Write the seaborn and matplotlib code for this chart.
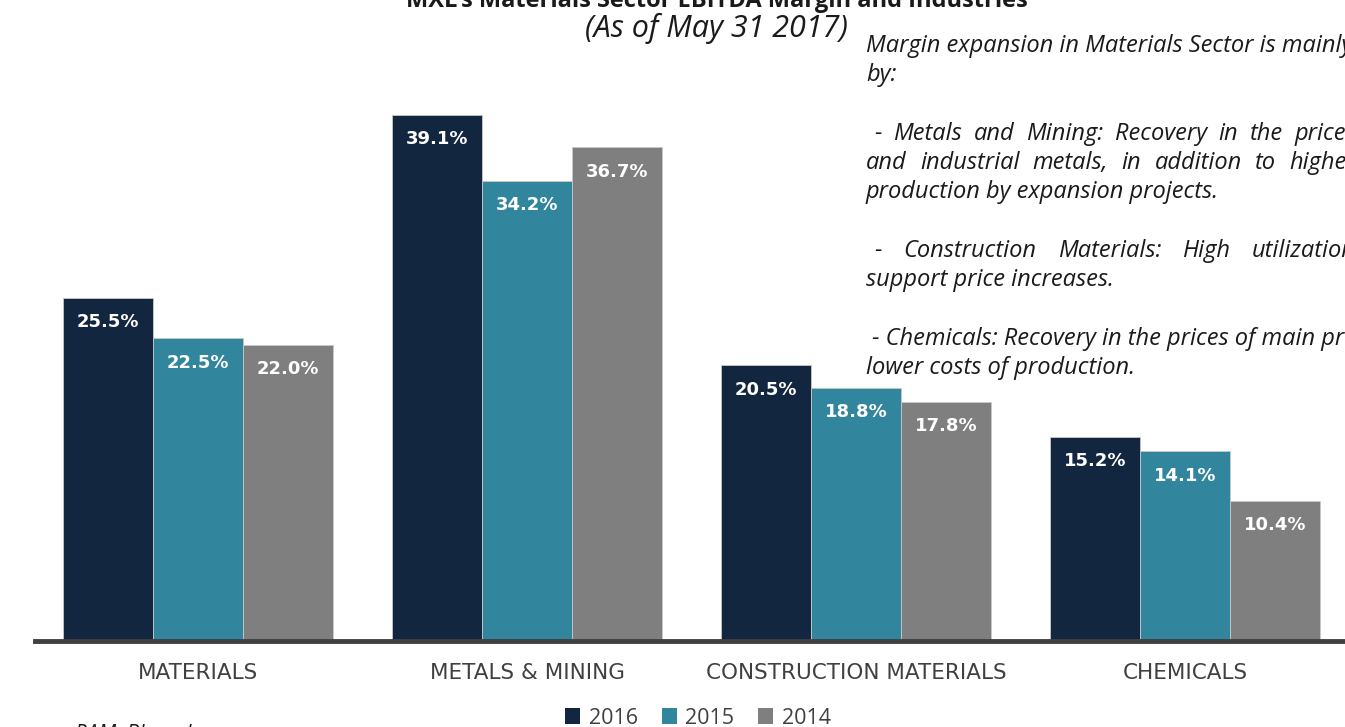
import matplotlib
matplotlib.use("Agg")
import matplotlib.pyplot as plt
import seaborn as sns
import pandas as pd
from matplotlib.patches import Patch

categories = ["MATERIALS", "METALS & MINING", "CONSTRUCTION MATERIALS", "CHEMICALS"]
years = ["2016", "2015", "2014"]
v2016 = [25.5, 39.1, 20.5, 15.2]
v2015 = [22.5, 34.2, 18.8, 14.1]
v2014 = [22.0, 36.7, 17.8, 10.4]
colors = ["#12263f", "#31869e", "#7f7f7f"]

title = "MXL's Materials Sector EBITDA Margin and Industries"
subtitle = "(As of May 31 2017)"
source = "PAM, Bloomberg"
# (text, justified?)
note_lines = [
    ("Margin expansion in Materials Sector is mainly driven", False),
    ("by:", False),
    ("", False),
    (" - Metals and Mining: Recovery in the prices", True),
    ("and industrial metals, in addition to higher", True),
    ("production by expansion projects.", False),
    ("", False),
    (" - Construction Materials: High utilization", True),
    ("support price increases.", False),
    ("", False),
    (" - Chemicals: Recovery in the prices of main products and", False),
    ("lower costs of production.", False),
]

rows = []
for y, vals in zip(years, [v2016, v2015, v2014]):
    for c, v in zip(categories, vals):
        rows.append({"category": c, "year": y, "value": v})
df = pd.DataFrame(rows)

sns.set_theme(style="white")
plt.rcParams["font.family"] = ["Open Sans", "DejaVu Sans"]

W, H = 1345, 727
fig = plt.figure(figsize=(W / 100, H / 100), dpi=100)
ax = fig.add_axes([35 / W, 1 - 641 / H, 1 - 35 / W, 641 / H])

sns.barplot(data=df, x="category", y="value", hue="year", hue_order=years,
            order=categories, palette=colors, width=0.82, gap=0,
            edgecolor="#c8c8c8", linewidth=0.6, saturation=1, ax=ax,
            legend=False)

ax.set_xlim(-0.495, 3.486)
ax.set_ylim(0, 641 / 13.45)
for s in ["top", "right", "left"]:
    ax.spines[s].set_visible(False)
ax.spines["bottom"].set_color("#404040")
ax.spines["bottom"].set_linewidth(3.5)
ax.set_yticks([])
ax.set_xlabel("")
ax.set_ylabel("")
ax.tick_params(axis="x", length=0, pad=16, labelsize=15.5, labelcolor="#404040")
for t in ax.get_xticklabels():
    t.set_fontfamily("DejaVu Sans")

for cont in ax.containers:
    for p in cont:
        h = p.get_height()
        ax.annotate(f"{h:.1f}%", (p.get_x() + p.get_width() / 2, h),
                    xytext=(0, -17.5), textcoords="offset points",
                    ha="center", va="center", color="white",
                    fontsize=13, fontweight="bold", family="DejaVu Sans")

# titles
fig.text(717 / W, 1 - 7 / H, title, ha="center", va="baseline",
         fontsize=17, fontweight="bold", color="#1a1a1a")
fig.text(716 / W, 1 - 37 / H, subtitle, ha="center", va="baseline",
         fontsize=22, fontstyle="italic", color="#1a1a1a")

# commentary (justified lines spread to the box's right edge)
renderer = fig.canvas.get_renderer()
x_left, x_right = 866, 1356
y0 = 46
fs_note = 17
for i, (line, just) in enumerate(note_lines):
    if not line:
        continue
    yy = 1 - (y0 + i * 29.3) / H
    if not just:
        fig.text(x_left / W, yy, line, ha="left", va="center",
                 fontsize=fs_note, fontstyle="italic", color="#1a1a1a")
        continue
    lead = len(line) - len(line.lstrip(" "))
    words = line.split()
    texts = [fig.text(0, yy, w, ha="left", va="center", fontsize=fs_note,
                      fontstyle="italic", color="#1a1a1a") for w in words]
    widths = [t.get_window_extent(renderer).width for t in texts]
    start = x_left + lead * 8
    gap = (x_right - start - sum(widths)) / (len(words) - 1)
    x = start
    for t, wdt in zip(texts, widths):
        t.set_x(x / W)
        x += wdt + gap

# source
fig.text(75 / W, 1 - 735 / H, source, ha="left", va="center",
         fontsize=15, fontstyle="italic", color="#1a1a1a")

handles = [Patch(facecolor=c, edgecolor="none", label=y) for c, y in zip(colors, years)]
fig.legend(handles=handles, loc="center", bbox_to_anchor=(698 / W, 1 - 718 / H),
           ncol=3, frameon=False, fontsize=15.5, handlelength=0.7, handleheight=0.7,
           handletextpad=0.4, columnspacing=1.1, labelcolor="#404040")

fig.savefig("out.png", dpi=100)
